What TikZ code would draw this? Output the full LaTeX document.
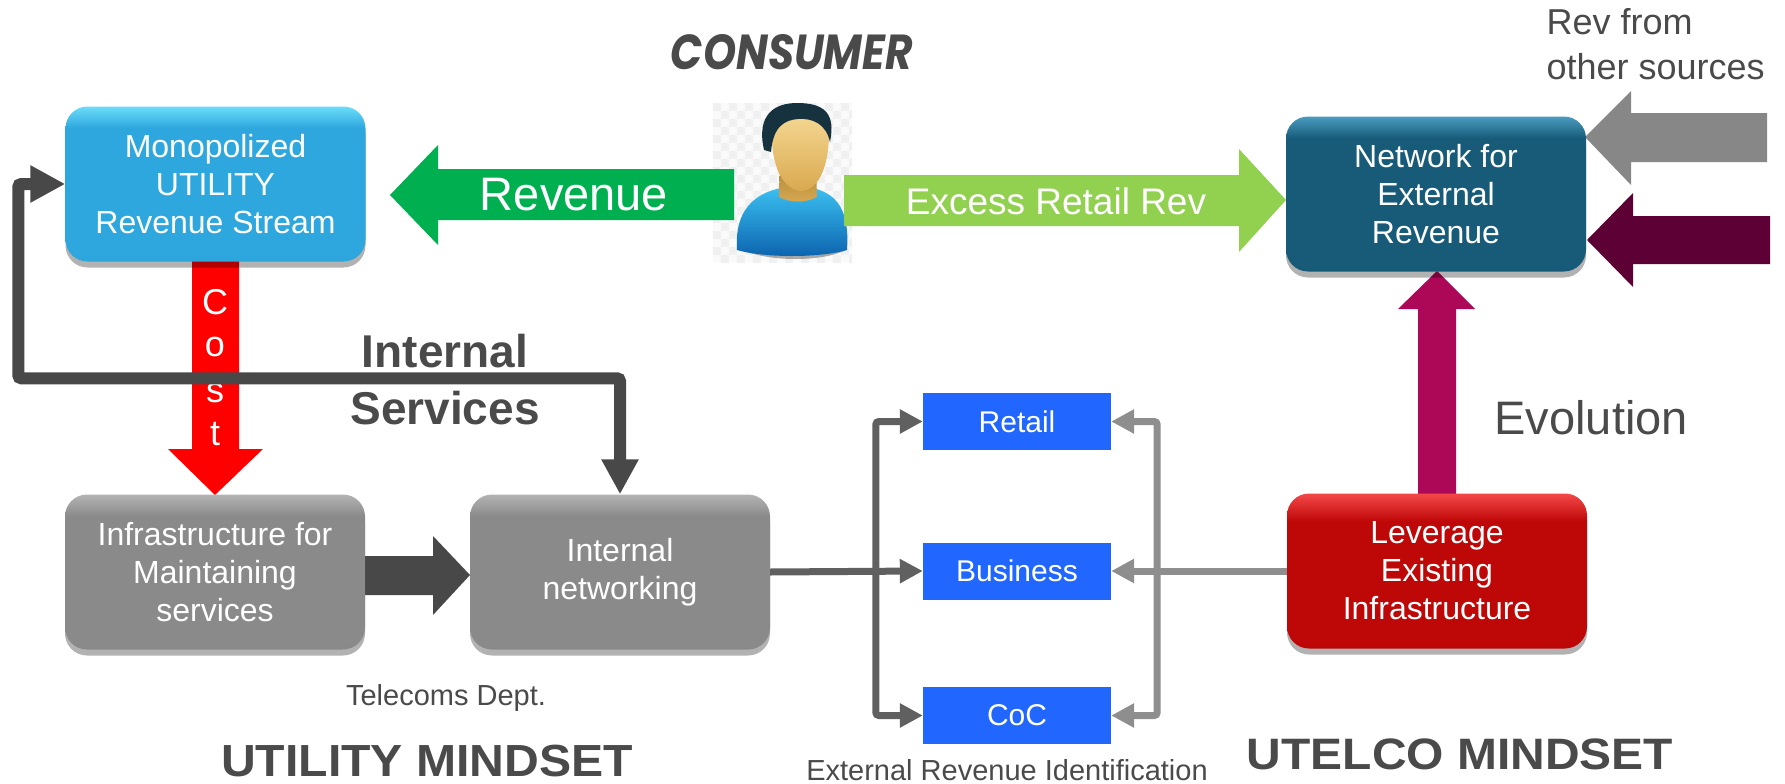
\documentclass[tikz,border=0pt]{standalone}
\usepackage{fontspec}
\setmainfont{Liberation Sans}
\newfontfamily\brandfont{Poppins}
\usetikzlibrary{arrows.meta,shadows,calc}

\definecolor{monoC}{HTML}{2DA7DE}
\definecolor{monoT}{HTML}{6BDDF8}
\definecolor{netC}{HTML}{175B79}
\definecolor{netT}{HTML}{4A9CC0}
\definecolor{grayC}{HTML}{8A8A8A}
\definecolor{grayT}{HTML}{B4B4B4}
\definecolor{redC}{HTML}{BE0707}
\definecolor{redT}{HTML}{F44848}
\definecolor{blueBox}{HTML}{2166FF}
\definecolor{txtGray}{HTML}{4A4A4A}
\definecolor{revGreen}{HTML}{00B050}
\definecolor{exGreen}{HTML}{92D050}
\definecolor{srcGray}{HTML}{878787}
\definecolor{srcPurple}{HTML}{5C0035}
\definecolor{evoMag}{HTML}{AD0757}
\definecolor{costRed}{HTML}{FF0000}
\definecolor{darkArrow}{HTML}{484848}
\definecolor{brL}{HTML}{606060}
\definecolor{brR}{HTML}{8E8E8E}
\definecolor{hairC}{HTML}{17323F}
\definecolor{skinT}{HTML}{F6DA96}
\definecolor{skinB}{HTML}{D9A94F}
\definecolor{shirtT}{HTML}{3CC2F2}
\definecolor{shirtB}{HTML}{0B62AE}

% glossy fills: flat body colour with a thin bright band along the top edge
\pgfdeclareverticalshading{monoShade}{100bp}{color(0bp)=(monoC!92!black); color(28bp)=(monoC); color(68bp)=(monoC); color(75bp)=(monoT); color(100bp)=(monoT)}
\pgfdeclareverticalshading{netShade}{100bp}{color(0bp)=(netC!90!black); color(28bp)=(netC); color(68bp)=(netC); color(75bp)=(netT); color(100bp)=(netT)}
\pgfdeclareverticalshading{grayShade}{100bp}{color(0bp)=(grayC!92!black); color(28bp)=(grayC); color(68bp)=(grayC); color(75bp)=(grayT); color(100bp)=(grayT)}
\pgfdeclareverticalshading{redShade}{100bp}{color(0bp)=(redC!92!black); color(28bp)=(redC); color(66bp)=(redC); color(75bp)=(redT); color(100bp)=(redT)}

\tikzset{
  bigbox/.style={rounded corners=22pt, minimum width=300pt, minimum height=155pt,
    text=white, align=center, font=\fontsize{32}{38}\selectfont,
    drop shadow={shadow xshift=0pt, shadow yshift=-6pt, opacity=0.3, fill=black}},
  catbox/.style={fill=blueBox, minimum width=188pt, minimum height=57pt,
    text=white, font=\fontsize{30}{36}\selectfont},
  plain/.style={text=txtGray, align=center},
}

\begin{document}
\begin{tikzpicture}[x=1pt,y=-1pt]
\useasboundingbox (0,0) rectangle (1785,784);

% ---- consumer figure ----
\node[minimum width=139pt, minimum height=159pt, inner sep=0pt] (cons) at (782.5,182.5) {};
\begin{scope}
  \clip (cons.north west) rectangle (cons.south east);
  \fill[black!2] (cons.north west) rectangle (cons.south east);
  \foreach \i in {0,...,17} \foreach \j in {0,...,20} {
    \pgfmathtruncatemacro\chk{mod(\i+\j,2)}
    \ifnum\chk=0 \fill[black!6] ($(cons.north west)+(\i*8,\j*8)$) rectangle ++(8,8); \fi
  }
\end{scope}
% shadow under the shoulders
\fill[black!55, opacity=0.6] (742,250) .. controls (770,262) and (822,262) .. (846,250) -- (846,246) -- (742,246) -- cycle;
% shoulders
\shade[top color=shirtT, bottom color=shirtB] (737,250) .. controls (734,205) and (760,188) .. (797,186)
  .. controls (834,188) and (850,205) .. (847,250) .. controls (820,258) and (764,258) .. (737,250) -- cycle;
% neck
\shade[top color=skinB!80!black, bottom color=skinB] (780,168) -- (816,168) -- (817,197) .. controls (806,203) and (790,203) .. (779,197) -- cycle;
% face
\shade[top color=skinT, bottom color=skinB] (772,126) .. controls (770,168) and (784,190) .. (801,191)
  .. controls (819,190) and (830,166) .. (829,126) .. controls (819,110) and (782,110) .. (772,126) -- cycle;
% hair
\fill[hairC] (764,150) .. controls (756,114) and (775,103) .. (797,103) .. controls (824,103) and (836,113) .. (830,142)
  .. controls (826,124) and (813,118) .. (798,119) .. controls (784,120) and (773,127) .. (771,152) -- cycle;

% ---- block arrows ----
\fill[revGreen] (734,169) -- (438,169) -- (438,145) -- (390,195) -- (438,245) -- (438,220) -- (734,220) -- cycle;
\fill[exGreen] (844,175) -- (1239,175) -- (1239,149) -- (1286,200) -- (1239,252) -- (1239,226) -- (844,226) -- cycle;
\fill[srcGray] (1767,113) -- (1631,113) -- (1631,91) -- (1585,137) -- (1631,185) -- (1631,162) -- (1767,162) -- cycle;
\fill[srcPurple] (1770,216) -- (1633,216) -- (1633,193) -- (1587,240) -- (1633,287) -- (1633,264) -- (1770,264) -- cycle;
\fill[evoMag] (1418,495) -- (1418,309) -- (1398,309) -- (1437,271) -- (1475,309) -- (1456,309) -- (1456,495) -- cycle;
\fill[costRed] (192,258) -- (192,449) -- (168,449) -- (215,495) -- (263,449) -- (239,449) -- (239,258) -- cycle;
\fill[darkArrow] (362,556) -- (433,556) -- (433,536) -- (470,575) -- (433,615) -- (433,595) -- (362,595) -- cycle;

% ---- arrow labels ----
\node[text=white, font=\fontsize{47}{50}\selectfont] (revlbl) at (574,195) {Revenue};
\node[text=white, font=\fontsize{37}{40}\selectfont] (exlbl) at (1056,201) {Excess Retail Rev};
\foreach \ch/\yy [count=\k] in {C/302,o/347,s/393,t/434}
  \node[text=white, font=\fontsize{36}{40}\selectfont] (cost\k) at (215,\yy) {\ch};

% ---- main boxes ----
\node[bigbox, shading=monoShade] (mono) at (215.5,184)
  {Monopolized\\UTILITY\\Revenue Stream};
\node[bigbox, shading=netShade] (net) at (1436,194)
  {Network for\\External\\Revenue};
\node[bigbox, shading=grayShade] (infra) at (215,572)
  {Infrastructure for\\Maintaining\\services};
\node[bigbox, shading=grayShade] (inet) at (620,572)
  {Internal\\networking};
\node[bigbox, shading=redShade] (lever) at (1437,571)
  {Leverage\\Existing\\Infrastructure};

\node[catbox] (retail) at (1017,421.5) {Retail};
\node[catbox] (business) at (1017,571) {Business};
\node[catbox] (coc) at (1017,715.5) {CoC};

% ---- connectors ----
\draw[line width=12pt, darkArrow, rounded corners=3pt, {Triangle[length=35pt,width=35pt]}-{Triangle[length=35pt,width=35pt]}]
  (mono.west) -- ++(-47,0) |- ($(inet.north)+(0,-116)$) -- (inet.north);

\draw[line width=7pt, brL, -{Triangle[length=23pt,width=23pt]}] (inet.east) -- (business.west);
\draw[line width=7pt, brL, rounded corners=3pt, {Triangle[length=23pt,width=23pt]}-{Triangle[length=23pt,width=23pt]}]
  (retail.west) -- ++(-47,0) |- (coc.west);
\draw[line width=7pt, brR, -{Triangle[length=23pt,width=23pt]}] (lever.west) -- (business.east);
\draw[line width=7pt, brR, rounded corners=3pt, {Triangle[length=23pt,width=23pt]}-{Triangle[length=23pt,width=23pt]}]
  (retail.east) -- ++(46,0) |- (coc.east);

% ---- free texts ----
\node[text=txtGray] (cnsmr) at (792,52)
  {\resizebox{242pt}{35pt}{\brandfont\bfseries\itshape CONSUMER}};
\node[plain, anchor=north west, align=left, font=\fontsize{36}{45}\selectfont] (other) at (1543,5)
  {Rev from\\other sources};
\node[plain, font=\bfseries\fontsize{46}{57}\selectfont] (intsvc) at (445,380) {Internal\\Services};
\node[plain, anchor=west, font=\fontsize{47}{50}\selectfont] (evo) at (1491,418) {Evolution};
\node[plain, font=\fontsize{29}{34}\selectfont] (dept) at (446,698) {Telecoms Dept.};
\node[plain, font=\bfseries\fontsize{45}{50}\selectfont] (umind) at (427,761) {\scalebox{1.07}[1]{UTILITY MINDSET}};
\node[plain, font=\bfseries\fontsize{44}{50}\selectfont] (tmind) at (1460,754) {\scalebox{1.09}[1]{UTELCO MINDSET}};
\node[plain, font=\fontsize{29}{34}\selectfont] (extid) at (1007,770) {External Revenue Identification};
\end{tikzpicture}
\end{document}
